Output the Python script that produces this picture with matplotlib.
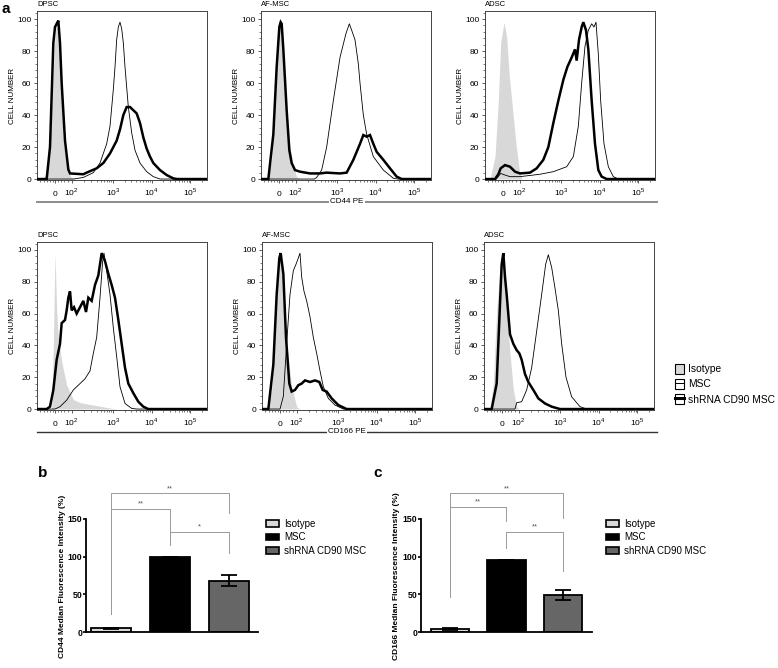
import numpy as np
import matplotlib
matplotlib.use("Agg")
import matplotlib.pyplot as plt
from matplotlib.patches import Patch
from matplotlib.lines import Line2D
from matplotlib.ticker import FixedLocator, AutoMinorLocator

plt.rcParams['font.family'] = ['Liberation Sans', 'DejaVu Sans']
plt.rcParams['mathtext.fontset'] = 'custom'
plt.rcParams['mathtext.rm'] = 'Liberation Sans'

##########################################################################################
##                                   Histogram data                                     ##
##      x = display channel (0-255, biexponential axis), y = % of max cell number       ##
##########################################################################################

# --- CD44 ---
dpsc_cd44_iso = [(0, 0), (7, 0), (14.5, 3.5), (19.5, 20), (23.5, 60), (27, 89), (29.5, 97), (32, 91),
                 (35.5, 60), (39.5, 24), (44.5, 8), (50.5, 1.5), (57, 0), (255, 0)]
dpsc_cd44_msc = [(0, 0), (55, 0), (69.5, 1), (84.5, 4), (94.5, 10), (104.5, 22), (109.5, 33), (114.5, 56),
                 (117, 70), (119.5, 87), (122, 95), (124.5, 98), (127, 94), (129.5, 85), (132, 70), (137, 45),
                 (142, 29), (147, 18), (154.5, 10), (164.5, 4.6), (174.5, 1.5), (184.5, 0), (255, 0)]
dpsc_cd44_sh = [(0, 0), (14.5, 0), (19.5, 20), (24.5, 85), (27, 95), (29.5, 97), (32, 99), (34.5, 85),
                (37, 60), (42, 24), (47, 6), (49.5, 3.5), (69.5, 3), (74.5, 4), (89.5, 6.7), (99.5, 10),
                (109.5, 16), (119.5, 24), (124.5, 31), (129.5, 40), (134.5, 45), (139.5, 45), (144.5, 43),
                (149.5, 41), (154.5, 35), (159.5, 26), (164.5, 19), (169.5, 14), (174.5, 10), (184.5, 5.6),
                (194.5, 2.5), (204.5, 0.4), (210, 0), (255, 0)]

afmsc_cd44_iso = [(0, 0), (8.5, 0), (16, 12), (21, 60), (26, 93), (29.5, 97), (33.5, 81), (38.5, 43),
                  (43.5, 20), (48.5, 8), (53.5, 1.5), (58.5, 0), (255, 0)]
afmsc_cd44_msc = [(0, 0), (80, 0), (83.5, 1), (91, 5.6), (98.5, 20), (108.5, 49), (118.5, 76), (127.5, 91),
                  (132.5, 97), (136, 93), (141, 87), (146, 72), (148.5, 60), (153.5, 40), (158.5, 28),
                  (168.5, 14), (183.5, 5.6), (198.5, 0.5), (205, 0), (255, 0)]
afmsc_cd44_sh = [(0, 0), (11, 0), (18.5, 28), (23.5, 70), (27.5, 95), (29.5, 98), (31, 97), (33.5, 81),
                 (38.5, 43), (42.5, 18), (46, 10), (51, 5.6), (58.5, 4.6), (73.5, 3.5), (88.5, 3.5),
                 (98.5, 4), (118.5, 3.5), (128.5, 4), (138.5, 12), (148.5, 22), (153.5, 27.5), (158.5, 26.5),
                 (163.5, 27.5), (168.5, 22), (173.5, 17), (183.5, 12), (193.5, 6.7), (203.5, 1.5), (211, 0),
                 (255, 0)]

adsc_cd44_iso = [(0, 0), (7.5, 0), (15, 14), (20, 49), (23.5, 85), (28.5, 98), (32.5, 89), (36.5, 64),
                 (41.5, 43), (46.5, 22), (51.5, 5.6), (55, 0), (255, 0)]
adsc_cd44_msc = [(0, 0), (17, 0), (23.5, 3.5), (30, 2.5), (37.5, 1.5), (52.5, 1.5), (82.5, 3), (102.5, 4.6),
                 (122.5, 7.7), (132.5, 14), (140, 33), (145, 60), (150, 83), (155, 93), (160, 97),
                 (163.5, 95), (166.5, 98), (170, 78), (173.5, 49), (178.5, 22), (185, 7.7), (192.5, 1.5),
                 (200, 0), (255, 0)]
adsc_cd44_sh = [(0, 0), (15, 0), (20, 3), (23.5, 6.7), (30, 8.7), (37.5, 7.7), (45, 4.6), (52.5, 3.5),
                (67.5, 4), (77.5, 6.7), (87.5, 12), (95, 20), (102.5, 35), (110, 49), (117.5, 62),
                (123.5, 70), (130, 76), (135, 81), (137.5, 74), (141, 87), (145, 95), (147.5, 98),
                (151.5, 93), (155, 81), (160, 49), (165, 22), (170, 5.6), (175, 1.5), (182.5, 0), (255, 0)]

# --- CD166 ---
dpsc_cd166_iso = [(0, 0), (22, 0), (24.5, 41), (27, 98), (29.5, 62), (32, 45), (37, 30), (44.5, 15),
                  (54.5, 6), (64.5, 4), (84.5, 2.5), (104.5, 1), (119.5, 0), (255, 0)]
dpsc_cd166_msc = [(0, 0), (27, 0), (34.5, 1.5), (44.5, 5.6), (54.5, 12), (64.5, 16), (72, 19), (79.5, 24),
                  (84.5, 35), (89.5, 45), (94.5, 70), (98.5, 93), (100.5, 98), (104.5, 87), (109.5, 72),
                  (114.5, 51), (119.5, 33), (124.5, 14), (132, 3.5), (142, 0.4), (150, 0), (255, 0)]
dpsc_cd166_sh = [(0, 0), (14.5, 0), (19.5, 1.5), (24.5, 12), (29.5, 31), (34.5, 41), (37, 54), (42, 56),
                 (44.5, 62), (47, 70), (49.5, 74), (52, 62), (55.5, 64), (59.5, 60), (64.5, 64), (69.5, 68),
                 (73.5, 61), (77, 70), (82, 68), (87, 78), (92, 84), (97, 98), (102, 93), (107, 85),
                 (112, 78), (117, 70), (122, 56), (127, 41), (132, 26), (137, 16), (144.5, 10), (152, 4.6),
                 (159.5, 1.5), (167, 0), (255, 0)]

afmsc_cd166_iso = [(0, 0), (7, 0), (14.5, 12), (19.5, 51), (24.5, 87), (28, 97), (32, 76), (37, 41),
                   (44.5, 14), (52, 1.5), (57, 0), (255, 0)]
afmsc_cd166_msc = [(0, 0), (27, 0), (32, 8), (37, 41), (42, 72), (47, 87), (51, 91), (54.5, 95), (57, 98),
                   (59.5, 83), (63, 74), (67, 68), (72, 58), (77, 45), (82, 35), (87, 24), (92, 14),
                   (99.5, 6.7), (109.5, 2.5), (122, 0), (255, 0)]
afmsc_cd166_sh = [(0, 0), (9.5, 0), (17, 28), (22, 72), (26, 95), (28, 98), (32, 85), (36, 45), (41, 16),
                  (44.5, 11), (49.5, 12), (54.5, 15), (59.5, 16), (64.5, 18), (72, 17), (79.5, 18), (86, 17),
                  (91, 12), (97, 11), (104.5, 6.7), (114.5, 2.5), (127, 0), (255, 0)]

adsc_cd166_iso = [(0, 0), (9, 0), (14, 16), (19, 62), (24, 89), (28, 97), (33, 72), (39, 35), (44, 12),
                  (49, 1.5), (53, 0), (255, 0)]
adsc_cd166_msc = [(0, 0), (46.5, 0), (49, 4), (56.5, 4.6), (64, 12), (71.5, 26), (79, 49), (86.5, 72),
                  (92.5, 91), (96.5, 97), (101.5, 89), (106.5, 76), (111.5, 62), (116.5, 41), (123, 20),
                  (131.5, 7.7), (144, 1.5), (154, 0), (255, 0)]
adsc_cd166_sh = [(0, 0), (11.5, 0), (19, 16), (23, 56), (26.5, 91), (29, 98), (31.5, 83), (34, 72), (39, 47),
                 (44, 41), (49, 37), (53, 35), (56.5, 31), (61.5, 22), (66.5, 17), (74, 12), (81.5, 6.7),
                 (91.5, 3.5), (101.5, 1.5), (114, 0), (255, 0)]

cell_types = ['DPSC', 'AF-MSC', 'ADSC']
hist_labels = ['Isotype', 'MSC', 'shRNA CD90 MSC']

# decade positions on the display channel axis
major_ch = [27, 52, 114, 172, 230]
major_lbl = ['0', r'$10^2$', r'$10^3$', r'$10^4$', r'$10^5$']

##########################################################################################
##                                 Bar chart data (b, c)                                ##
##########################################################################################
groups = ['Isotype', 'MSC', 'shRNA CD90 MSC']
cd44_mfi = [5, 100, 68]
cd44_err = [0.5, 0, 7]
cd166_mfi = [4, 95, 49]
cd166_err = [1, 1, 6.5]
# significance brackets: (x0, x1, height, left leg end, right leg end, label)
cd44_sig = [(0, 2, 184, 24, 158, '**'), (0, 1, 163, 24, 115, '**'), (1, 2, 133, 115, 104, '*')]
cd166_sig = [(0, 2, 184, 47, 151, '**'), (0, 1, 166, 47, 147, '**'), (1, 2, 133, 111, 81, '**')]

bar_colors = ['#d9d9d9', '#000000', '#666666']
iso_gray = '#d8d8d8'

##########################################################################################
W, H = 778, 668
fig = plt.figure(figsize=(W / 100, H / 100), dpi=100)


def rect(l, t, r, b):
    return [l / W, 1 - b / H, (r - l) / W, (b - t) / H]


minor_ch = [5, 10, 15, 20, 24, 31, 36, 41, 46]
for k in range(3):
    lo, hi = major_ch[k + 1], major_ch[k + 2]
    minor_ch += [lo + np.log10(m) * (hi - lo) for m in range(2, 10)]
minor_ch += [230 + np.log10(m) * 58 for m in (2, 3, 4)]


def draw_hist(ax, iso, msc, sh, title):
    xi, yi = zip(*iso)
    ax.fill_between(xi, yi, 0, color=iso_gray, lw=0, zorder=1)
    xm, ym = zip(*msc)
    ax.plot(xm, ym, color='black', lw=0.6, zorder=2)
    xs, ys = zip(*sh)
    ax.plot(xs, ys, color='black', lw=1.8, zorder=3, solid_joinstyle='miter')
    ax.set_xlim(0, 255)
    ax.set_ylim(-0.6, 105)
    ax.xaxis.set_major_locator(FixedLocator(major_ch))
    ax.set_xticklabels(major_lbl)
    ax.xaxis.set_minor_locator(FixedLocator(minor_ch))
    ax.set_yticks([0, 20, 40, 60, 80, 100])
    ax.yaxis.set_minor_locator(AutoMinorLocator(5))
    ax.tick_params(which='major', length=2.5, width=0.6, labelsize=6, pad=1.5, color='#444')
    ax.tick_params(which='minor', length=1.3, width=0.5, color='#444')
    ax.tick_params(axis='x', which='major', pad=8.7)
    for t in ax.get_xticklabels():
        t.set_verticalalignment('baseline')
    for s in ax.spines.values():
        s.set_linewidth(0.7)
        s.set_color('#444')
    ax.set_ylabel('CELL NUMBER', fontsize=5.8)
    ax.yaxis.set_label_coords(-21 / 170, 0.5)
    ax.text(0, 1.015, title, transform=ax.transAxes, fontsize=5.5, va='bottom', ha='left')


top_curves = [(dpsc_cd44_iso, dpsc_cd44_msc, dpsc_cd44_sh),
              (afmsc_cd44_iso, afmsc_cd44_msc, afmsc_cd44_sh),
              (adsc_cd44_iso, adsc_cd44_msc, adsc_cd44_sh)]
bot_curves = [(dpsc_cd166_iso, dpsc_cd166_msc, dpsc_cd166_sh),
              (afmsc_cd166_iso, afmsc_cd166_msc, afmsc_cd166_sh),
              (adsc_cd166_iso, adsc_cd166_msc, adsc_cd166_sh)]

for left, curves, name in zip([37, 261, 485], top_curves, cell_types):
    ax = fig.add_axes(rect(left, 11, left + 170, 180))
    draw_hist(ax, *curves, name)
for left, curves, name in zip([37, 262, 484], bot_curves, cell_types):
    ax = fig.add_axes(rect(left, 242, left + 170, 410))
    draw_hist(ax, *curves, name)

# shared x axis captions of the histogram rows
fig.add_artist(Line2D([37 / W, 657 / W], [1 - 201.5 / H] * 2, color='#8c8c8c', lw=1.4))
fig.text(347 / W, 1 - 201.5 / H, 'CD44 PE', fontsize=5.8, ha='center', va='center',
         bbox=dict(fc='white', ec='none', pad=1.0))
fig.add_artist(Line2D([37 / W, 657 / W], [1 - 431.5 / H] * 2, color='#333333', lw=1.0))
fig.text(347 / W, 1 - 431.5 / H, 'CD166 PE', fontsize=5.8, ha='center', va='center',
         bbox=dict(fc='white', ec='none', pad=1.0))

hist_handles = [Patch(fc=iso_gray, ec='black', lw=0.8),
                (Patch(fc='white', ec='black', lw=0.8), Line2D([], [], color='black', lw=0.7)),
                (Patch(fc='white', ec='black', lw=0.8), Line2D([], [], color='black', lw=2.2))]
fig.legend(hist_handles, hist_labels, loc='upper left', bbox_to_anchor=(675 / W, 1 - 364 / H),
           frameon=False, fontsize=7.4, handlelength=0.9, handleheight=1.1, handletextpad=0.35,
           labelspacing=0.45, borderpad=0, borderaxespad=0)


def draw_bars(ax, vals, errs, sig, ylabel, xlim):
    x = np.arange(len(vals))
    ax.bar(x, vals, 0.68, color=bar_colors, edgecolor='black', linewidth=1.3, yerr=errs,
           capsize=6, error_kw=dict(elinewidth=1.3, capthick=1.3, ecolor='black'), zorder=2)
    for x0, x1, h, l0, l1, txt in sig:
        ax.plot([x0, x0, x1, x1], [l0, h, h, l1], color='#9a9a9a', lw=0.7, clip_on=False, zorder=1)
        ax.text((x0 + x1) / 2, h + 1.5, txt, ha='center', va='bottom', fontsize=5.5, color='#555555')
    ax.set_xlim(*xlim)
    ax.set_ylim(0, 200)
    ax.set_xticks([])
    ax.set_yticks([0, 50, 100, 150])
    ax.spines['top'].set_visible(False)
    ax.spines['right'].set_visible(False)
    ax.spines['left'].set_bounds(0, 150)
    for s in ('left', 'bottom'):
        ax.spines[s].set_linewidth(1.3)
    ax.tick_params(axis='y', length=2.2, width=1.2, labelsize=6.3, pad=0.6)
    for t in ax.get_yticklabels():
        t.set_fontweight('bold')
    ax.set_ylabel(ylabel, fontsize=6, fontweight='bold')
    ax.patch.set_alpha(0)


axb = fig.add_axes(rect(86, 481, 258, 632))
draw_bars(axb, cd44_mfi, cd44_err, cd44_sig, 'CD44 Median Fluorescence Intensity (%)', (-0.424, 2.49))
axb.yaxis.set_label_coords(-20 / 172, 0.37)
axc = fig.add_axes(rect(421, 481, 592, 632))
draw_bars(axc, cd166_mfi, cd166_err, cd166_sig, 'CD166 Median Fluorescence Intensity (%)', (-0.513, 2.513))
axc.yaxis.set_label_coords(-21 / 171, 0.37)

bar_handles = [Patch(fc=c, ec='black', lw=1.2) for c in bar_colors]
for lx in (266, 606):
    fig.legend(bar_handles, groups, loc='upper left', bbox_to_anchor=(lx / W, 1 - 519 / H),
               frameon=False, fontsize=7, handlelength=1.3, handleheight=0.65, handletextpad=0.6,
               labelspacing=0.35, borderpad=0, borderaxespad=0)

# panel letters
fig.text(2 / W, 1 - 2 / H, 'a', fontsize=11, fontweight='bold', va='top')
fig.text(38 / W, 1 - 466 / H, 'b', fontsize=11, fontweight='bold', va='top')
fig.text(373 / W, 1 - 466 / H, 'c', fontsize=11, fontweight='bold', va='top')

fig.savefig('out.png', dpi=100)
